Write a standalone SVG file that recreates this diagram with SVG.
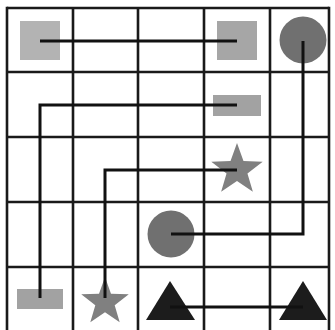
<svg xmlns="http://www.w3.org/2000/svg" xmlns:xlink="http://www.w3.org/1999/xlink" width="335" height="330" viewBox="0 0 335 330">
<style>
.grid line{stroke:#1a1a1a;stroke-width:2.6;}
.conn{fill:none;stroke:#111;stroke-width:3;stroke-linejoin:miter;}
.sq1{fill:#b3b3b3;}
.sq2{fill:#a6a6a6;}
.rect{fill:#a2a2a2;}
.circ{fill:#707070;}
.star{fill:#808080;}
.tri{fill:#1c1c1c;}
</style>
<defs>
<path id="star" d="M0,-27 L6.47,-8.9 L25.68,-8.34 L10.46,3.4 L15.87,21.84 L0,11 L-15.87,21.84 L-10.46,3.4 L-25.68,-8.34 L-6.47,-8.9 Z"/>
</defs>
<rect width="335" height="330" fill="#fff"/>
<g id="grid" class="grid">
<line x1="7" y1="6.7" x2="7" y2="330"/>
<line x1="73" y1="8" x2="73" y2="330"/>
<line x1="138" y1="8" x2="138" y2="330"/>
<line x1="204" y1="8" x2="204" y2="330"/>
<line x1="270" y1="8" x2="270" y2="330"/>
<line x1="329" y1="6.7" x2="329" y2="330"/>
<line x1="7" y1="8" x2="329" y2="8"/>
<line x1="7" y1="72" x2="329" y2="72"/>
<line x1="7" y1="137" x2="329" y2="137"/>
<line x1="7" y1="202" x2="329" y2="202"/>
<line x1="7" y1="267" x2="329" y2="267"/>
</g>
<g id="square-a"><rect class="sq1" x="20" y="21" width="40" height="39"/></g>
<g id="square-b"><rect class="sq2" x="217" y="21" width="40" height="39"/></g>
<g id="circle-a"><circle class="circ" cx="303" cy="40" r="23.5"/></g>
<g id="rect-a"><rect class="rect" x="213" y="95" width="48" height="21"/></g>
<g id="star-a"><use class="star" href="#star" xlink:href="#star" transform="translate(237,170)"/></g>
<g id="circle-b"><circle class="circ" cx="171" cy="234" r="23.5"/></g>
<g id="rect-b"><rect class="rect" x="17" y="289" width="46" height="20"/></g>
<g id="star-b"><use class="star" href="#star" xlink:href="#star" transform="translate(105,302) scale(0.926)"/></g>
<g id="triangle-a"><polygon class="tri" points="170,281 195,320 146,320"/></g>
<g id="triangle-b"><polygon class="tri" points="303,281 327,320 279,320"/></g>
<g id="connectors">
<polyline class="conn" points="40,41 237,41"/>
<polyline class="conn" points="303,41 303,234 171,234"/>
<polyline class="conn" points="237,105 40,105 40,298"/>
<polyline class="conn" points="237,170 105,170 105,298"/>
<polyline class="conn" points="170,307 303,307"/>
</g>
</svg>
